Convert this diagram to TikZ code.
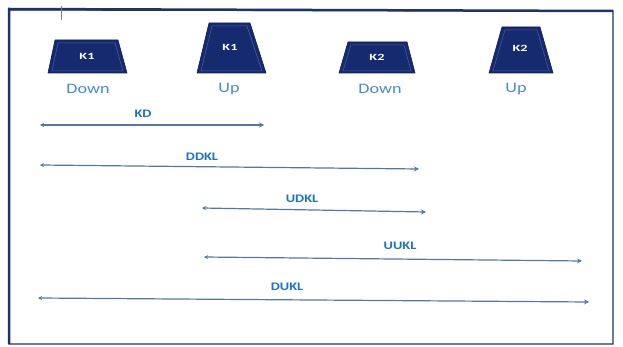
\documentclass[tikz,border=0pt]{standalone}
\usepackage{fontspec}
\setmainfont{Carlito}
\newfontfamily\widefont[FakeStretch=1.25]{Carlito}
\newfontfamily\keyfont[FakeStretch=1.5]{Carlito}
\usetikzlibrary{arrows.meta}
\definecolor{navy}{RGB}{22,42,112}
\definecolor{bevel}{RGB}{70,95,160}
\definecolor{frame}{RGB}{30,50,110}
\definecolor{lbl}{RGB}{70,140,205}
\definecolor{klbl}{RGB}{25,115,200}
\definecolor{arr}{RGB}{80,120,170}
\tikzset{
  key/.style={fill=navy, draw=navy!70!black, line width=0.6pt},
  keyin/.style={draw=bevel, line width=0.5pt},
  keytxt/.style={text=white, font=\keyfont\fontsize{9.5}{10}\selectfont\bfseries},
  poslbl/.style={text=lbl, font=\widefont\fontsize{14.5}{16}\selectfont},
  arlbl/.style={text=klbl, font=\widefont\fontsize{11.5}{12}\selectfont\bfseries},
  span/.style={draw=arr, line width=1.2pt, {Stealth[length=4pt,width=4pt]}-{Stealth[length=5pt,width=5pt]}}
}
\begin{document}
\begin{tikzpicture}[x=1pt,y=-1pt]
\useasboundingbox (0,0) rectangle (623,347);
\fill[white] (0,0) rectangle (623,347);
% frame
\draw[frame, line width=1.2pt] (9,10) -- (613,11) -- (613,344) -- (9,344) -- cycle;
\draw[frame, line width=2.5pt] (9,344) -- (9,9) -- (613,11);
\draw[gray, line width=0.6pt] (61,6) -- (61,20);
% keys
\foreach \tl/\tr/\bl/\br/\ty [count=\i] in {55/118/48/127/40, 209/250/197/266/23, 348/407/339/415/42, 502/540/489/553/27}{
  \draw[key] (\bl,73) -- (\tl,\ty) -- (\tr,\ty) -- (\br,73) -- cycle;
  \draw[keyin] (\bl+4,71) -- (\tl+3,\ty+3) -- (\tr-3,\ty+3) -- (\br-4,71) -- cycle;
}
\node[keytxt] (k1d) at (87,56) {K1};
\node[keytxt] (k1u) at (230,47) {K1};
\node[keytxt] (k2d) at (377,57) {K2};
\node[keytxt] (k2u) at (520,48) {K2};
\node[poslbl] (d1) at (88,89) {Down};
\node[poslbl] (u1) at (229,89) {Up};
\node[poslbl] (d2) at (380,89) {Down};
\node[poslbl] (u2) at (516,89) {Up};
% spans
\node[arlbl] (kd) at (143,114) {KD};
\node[arlbl] (ddkl) at (202,157) {DDKL};
\node[arlbl] (udkl) at (302,199) {UDKL};
\node[arlbl] (uukl) at (400,246) {UUKL};
\node[arlbl] (dukl) at (287,287) {DUKL};
\coordinate (a1) at (40,125); \coordinate (b1) at (264,125);
\coordinate (a2) at (40,165); \coordinate (b2) at (419,169);
\coordinate (a3) at (202,208); \coordinate (b3) at (426,212);
\coordinate (a4) at (204,257); \coordinate (b4) at (582,261);
\coordinate (a5) at (38,298); \coordinate (b5) at (589,302);
\draw[span] (a1) -- (b1);
\draw[span] (a2) -- (b2);
\draw[span] (a3) -- (b3);
\draw[span] (a4) -- (b4);
\draw[span] (a5) -- (b5);
\end{tikzpicture}
\end{document}
